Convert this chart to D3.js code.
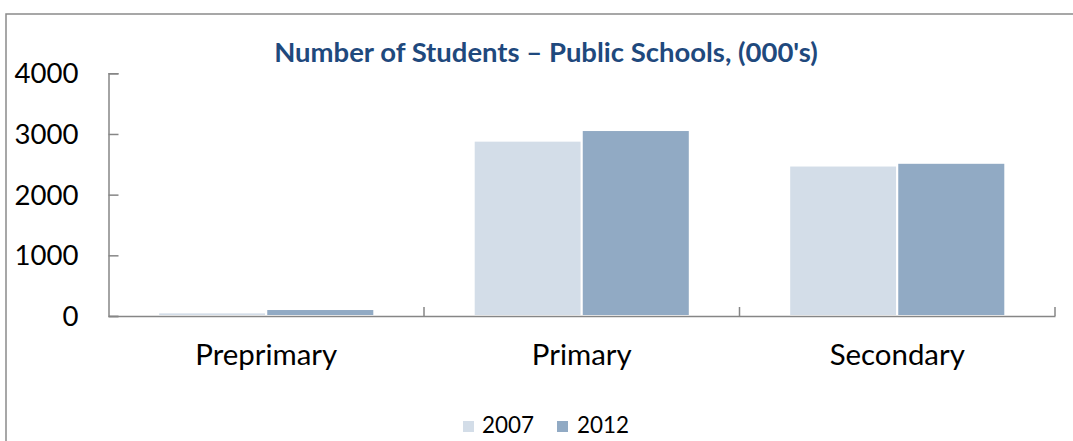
<!DOCTYPE html>
<html>
<head>
<meta charset="utf-8">
<script src="https://cdn.jsdelivr.net/npm/d3@7"></script>
<style>
  html, body { margin: 0; padding: 0; background: #fff; }
  svg { display: block; }
</style>
</head>
<body>
<svg id="chart" width="1073" height="441"></svg>
<script>
// ---- data ----
const categories = ["Preprimary", "Primary", "Secondary"];
const seriesNames = ["2007", "2012"];
const values2007 = [60, 2890, 2480];
const values2012 = [115, 3065, 2525];
const yTicks = [0, 1000, 2000, 3000, 4000];
const title = "Number of Students \u2013 Public Schools, (000's)";

const colors = { "2007": "#D3DDE8", "2012": "#91AAC4" };
const seriesValues = { "2007": values2007, "2012": values2012 };

const svg = d3.select("#chart");
const FONT = "Lato, 'Open Sans', sans-serif";
const axisColor = "#868686";

// outer chart border (extends past the right and bottom edges)
svg.append("rect")
  .attr("x", 6).attr("y", 14)
  .attr("width", 1200).attr("height", 600)
  .attr("fill", "none").attr("stroke", "#8a8a8a").attr("stroke-width", 1.5);

function fitWidth(sel, target) {
  const w = sel.node().getComputedTextLength();
  const fs = parseFloat(sel.attr("font-size"));
  const nf = fs * target / w;
  sel.attr("font-size", nf);
  return nf;
}

// ---- scales ----
const plot = { left: 108.5, right: 1055, top: 73.3, bottom: 316 };
const x0 = d3.scaleBand().domain(categories).range([plot.left, plot.right]).padding(0);
const x1 = d3.scaleBand().domain(seriesNames).range([0, x0.bandwidth()])
  .paddingInner(0).paddingOuter(0.46);
const y = d3.scaleLinear().domain([0, 4000]).range([plot.bottom, plot.top]);

// ---- title ----
const t = svg.append("text")
  .attr("x", 546).attr("y", 62)
  .attr("text-anchor", "middle")
  .attr("font-family", FONT).attr("font-weight", "bold")
  .attr("font-size", 24).attr("fill", "#1F497D")
  .text(title);
fitWidth(t, 544);

// ---- bars ----
const data = categories.map((c, i) => ({
  cat: c,
  vals: seriesNames.map(s => ({ s, v: seriesValues[s][i] }))
}));

const g = svg.append("g");
g.selectAll("g.cat").data(data).join("g")
  .attr("class", "cat")
  .attr("transform", d => `translate(${x0(d.cat)},0)`)
  .selectAll("rect").data(d => d.vals).join("rect")
  .attr("x", d => x1(d.s))
  .attr("y", d => y(d.v))
  .attr("width", x1.bandwidth())
  .attr("height", d => y(0) - y(d.v))
  .attr("fill", d => colors[d.s])
  .attr("stroke", "#fff").attr("stroke-width", 2);

// ---- y axis ----
const yAxis = d3.axisLeft(y).tickValues(yTicks).tickSize(-10).tickPadding(0).tickFormat(d3.format("d"));
const ya = svg.append("g").attr("transform", `translate(${plot.left},0)`).call(yAxis);
ya.select(".domain").attr("stroke", axisColor).attr("stroke-width", 1.5);
ya.selectAll(".tick line").attr("stroke", axisColor).attr("stroke-width", 1.5);
const yLabels = ya.selectAll(".tick text")
  .attr("font-family", FONT).attr("font-size", 28).attr("fill", "#000")
  .attr("x", -30).attr("dy", "0.35em");
const fs = fitWidth(ya.selectAll(".tick text").filter(d => d === 4000), 64);
yLabels.attr("font-size", fs);

// ---- x axis ----
const xAxis = d3.axisBottom(x0).tickSize(0).tickPadding(0);
const xa = svg.append("g").attr("transform", `translate(0,${plot.bottom})`).call(xAxis);
xa.select(".domain").attr("stroke", axisColor).attr("stroke-width", 1.5);
xa.selectAll(".tick text")
  .attr("font-family", FONT).attr("font-size", 24).attr("fill", "#000")
  .attr("y", 49).attr("dy", 0);
const cfs = fitWidth(xa.selectAll(".tick text").filter(d => d === "Preprimary"), 142);
xa.selectAll(".tick text").attr("font-size", cfs);
// category boundary tick marks (inside, pointing up)
const bounds = categories.map(c => x0(c) + x0.bandwidth());
xa.selectAll("line.bound").data(bounds).join("line")
  .attr("class", "bound")
  .attr("x1", d => d).attr("x2", d => d)
  .attr("y1", 0).attr("y2", -9)
  .attr("stroke", axisColor).attr("stroke-width", 1.5);

// ---- legend ----
const legendItems = [
  { s: "2007", sq: 463, tx: 482 },
  { s: "2012", sq: 557, tx: 577 }
];
const lg = svg.append("g");
lg.selectAll("rect").data(legendItems).join("rect")
  .attr("x", d => d.sq).attr("y", 421)
  .attr("width", 11).attr("height", 11)
  .attr("fill", d => colors[d.s]);
const lt = lg.selectAll("text").data(legendItems).join("text")
  .attr("x", d => d.tx).attr("y", 433)
  .attr("font-family", FONT).attr("font-size", 22).attr("fill", "#000")
  .text(d => d.s);
const lfs = fitWidth(lt.filter(d => d.s === "2007"), 52);
lt.attr("font-size", lfs);
</script>
</body>
</html>
